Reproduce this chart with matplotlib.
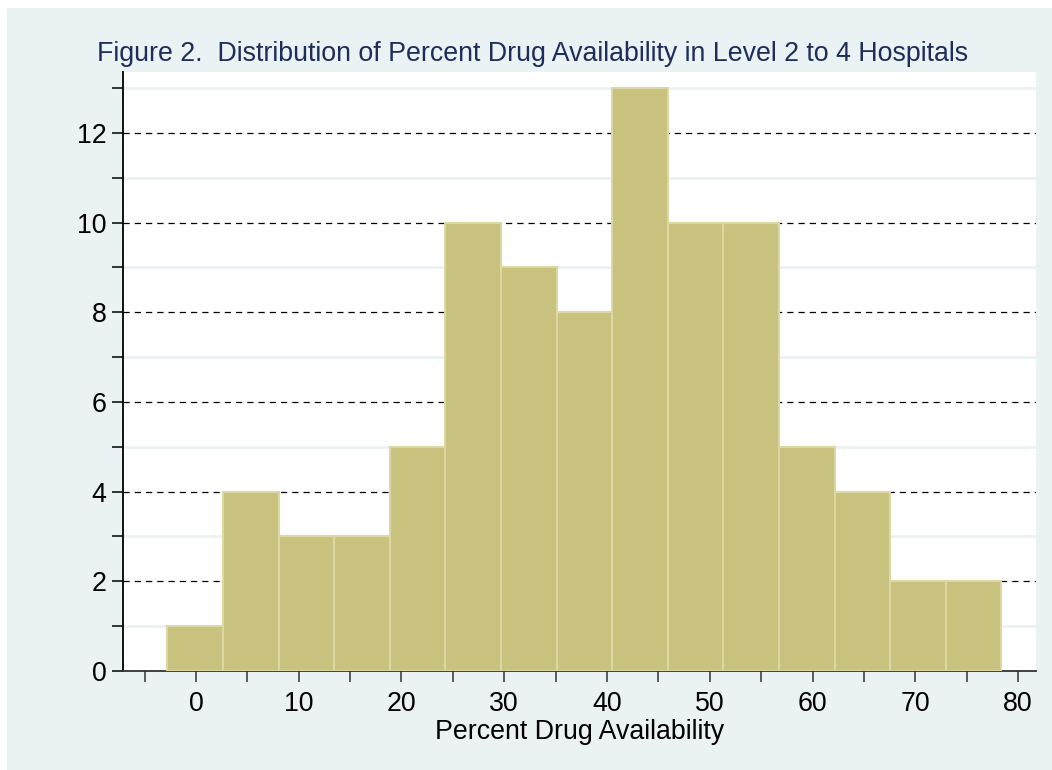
import numpy as np
import matplotlib
matplotlib.use("Agg")
import matplotlib.pyplot as plt
from matplotlib.ticker import MultipleLocator

# bin edges (percent), and counts per bin
BIN_EDGES = [-2.78, 2.63, 8.04, 13.45, 18.86, 24.28, 29.69, 35.10,
             40.51, 45.92, 51.33, 56.74, 62.15, 67.56, 72.98, 78.39]
COUNTS = [1, 4, 3, 3, 5, 10, 9, 8, 13, 10, 10, 5, 4, 2, 2]

TITLE = "Figure 2.  Distribution of Percent Drug Availability in Level 2 to 4 Hospitals"
XLABEL = "Percent Drug Availability"

BG = "#eaf2f3"
BAR_FILL = "#c9c27f"
BAR_EDGE = "#dcd8a3"
TITLE_COLOR = "#1e2d5a"
FS = 19.3

plt.rcParams["font.family"] = ["Liberation Sans", "DejaVu Sans"]

W, H = 1052, 770
fig = plt.figure(figsize=(W / 100, H / 100), dpi=100)
fig.patch.set_facecolor("white")
# light panel behind everything (thin white margin at top/left)
fig.patches.append(plt.Rectangle((7 / W, 0), 1 - 7 / W, 1 - 8 / H,
                                 transform=fig.transFigure, facecolor=BG,
                                 edgecolor="none", zorder=-10))

ax = fig.add_axes([123 / W, 99 / H, (1036 - 123) / W, (671 - 72) / H])
ax.set_facecolor("white")

edges = np.array(BIN_EDGES)
ax.bar(edges[:-1], COUNTS, width=np.diff(edges), align="edge",
       color=BAR_FILL, edgecolor=BAR_EDGE, linewidth=1.5, zorder=3)

ax.set_xlim(-7.1, 81.75)
ax.set_ylim(0, 13.36)

ax.xaxis.set_major_locator(MultipleLocator(10))
ax.xaxis.set_minor_locator(MultipleLocator(5))
ax.yaxis.set_major_locator(MultipleLocator(2))
ax.yaxis.set_minor_locator(MultipleLocator(1))

ax.grid(which="major", axis="y", color="black", linestyle=(0, (5, 4)),
        linewidth=0.9, zorder=1)
ax.grid(which="minor", axis="y", color=BG, linestyle="-", linewidth=2, zorder=1)
ax.set_axisbelow(True)

for s in ("top", "right"):
    ax.spines[s].set_visible(False)
ax.spines["left"].set_color("black")
ax.spines["bottom"].set_color("#333333")
ax.spines["left"].set_linewidth(1.3)
ax.spines["bottom"].set_linewidth(1.3)

ax.tick_params(axis="both", which="both", direction="out", length=8,
               width=1.1, colors="black", labelsize=FS)
ax.tick_params(axis="x", which="both", pad=6.5, color="#333333")
ax.tick_params(axis="y", which="both", pad=4)

fig.text(97 / W, 1 - 61 / H, TITLE, color=TITLE_COLOR, fontsize=FS,
         ha="left", va="baseline")
fig.text((123 + 1036) / 2 / W, 1 - 739 / H, XLABEL, color="black",
         fontsize=FS, ha="center", va="baseline")

fig.savefig("out.png", dpi=100, facecolor=fig.get_facecolor())
